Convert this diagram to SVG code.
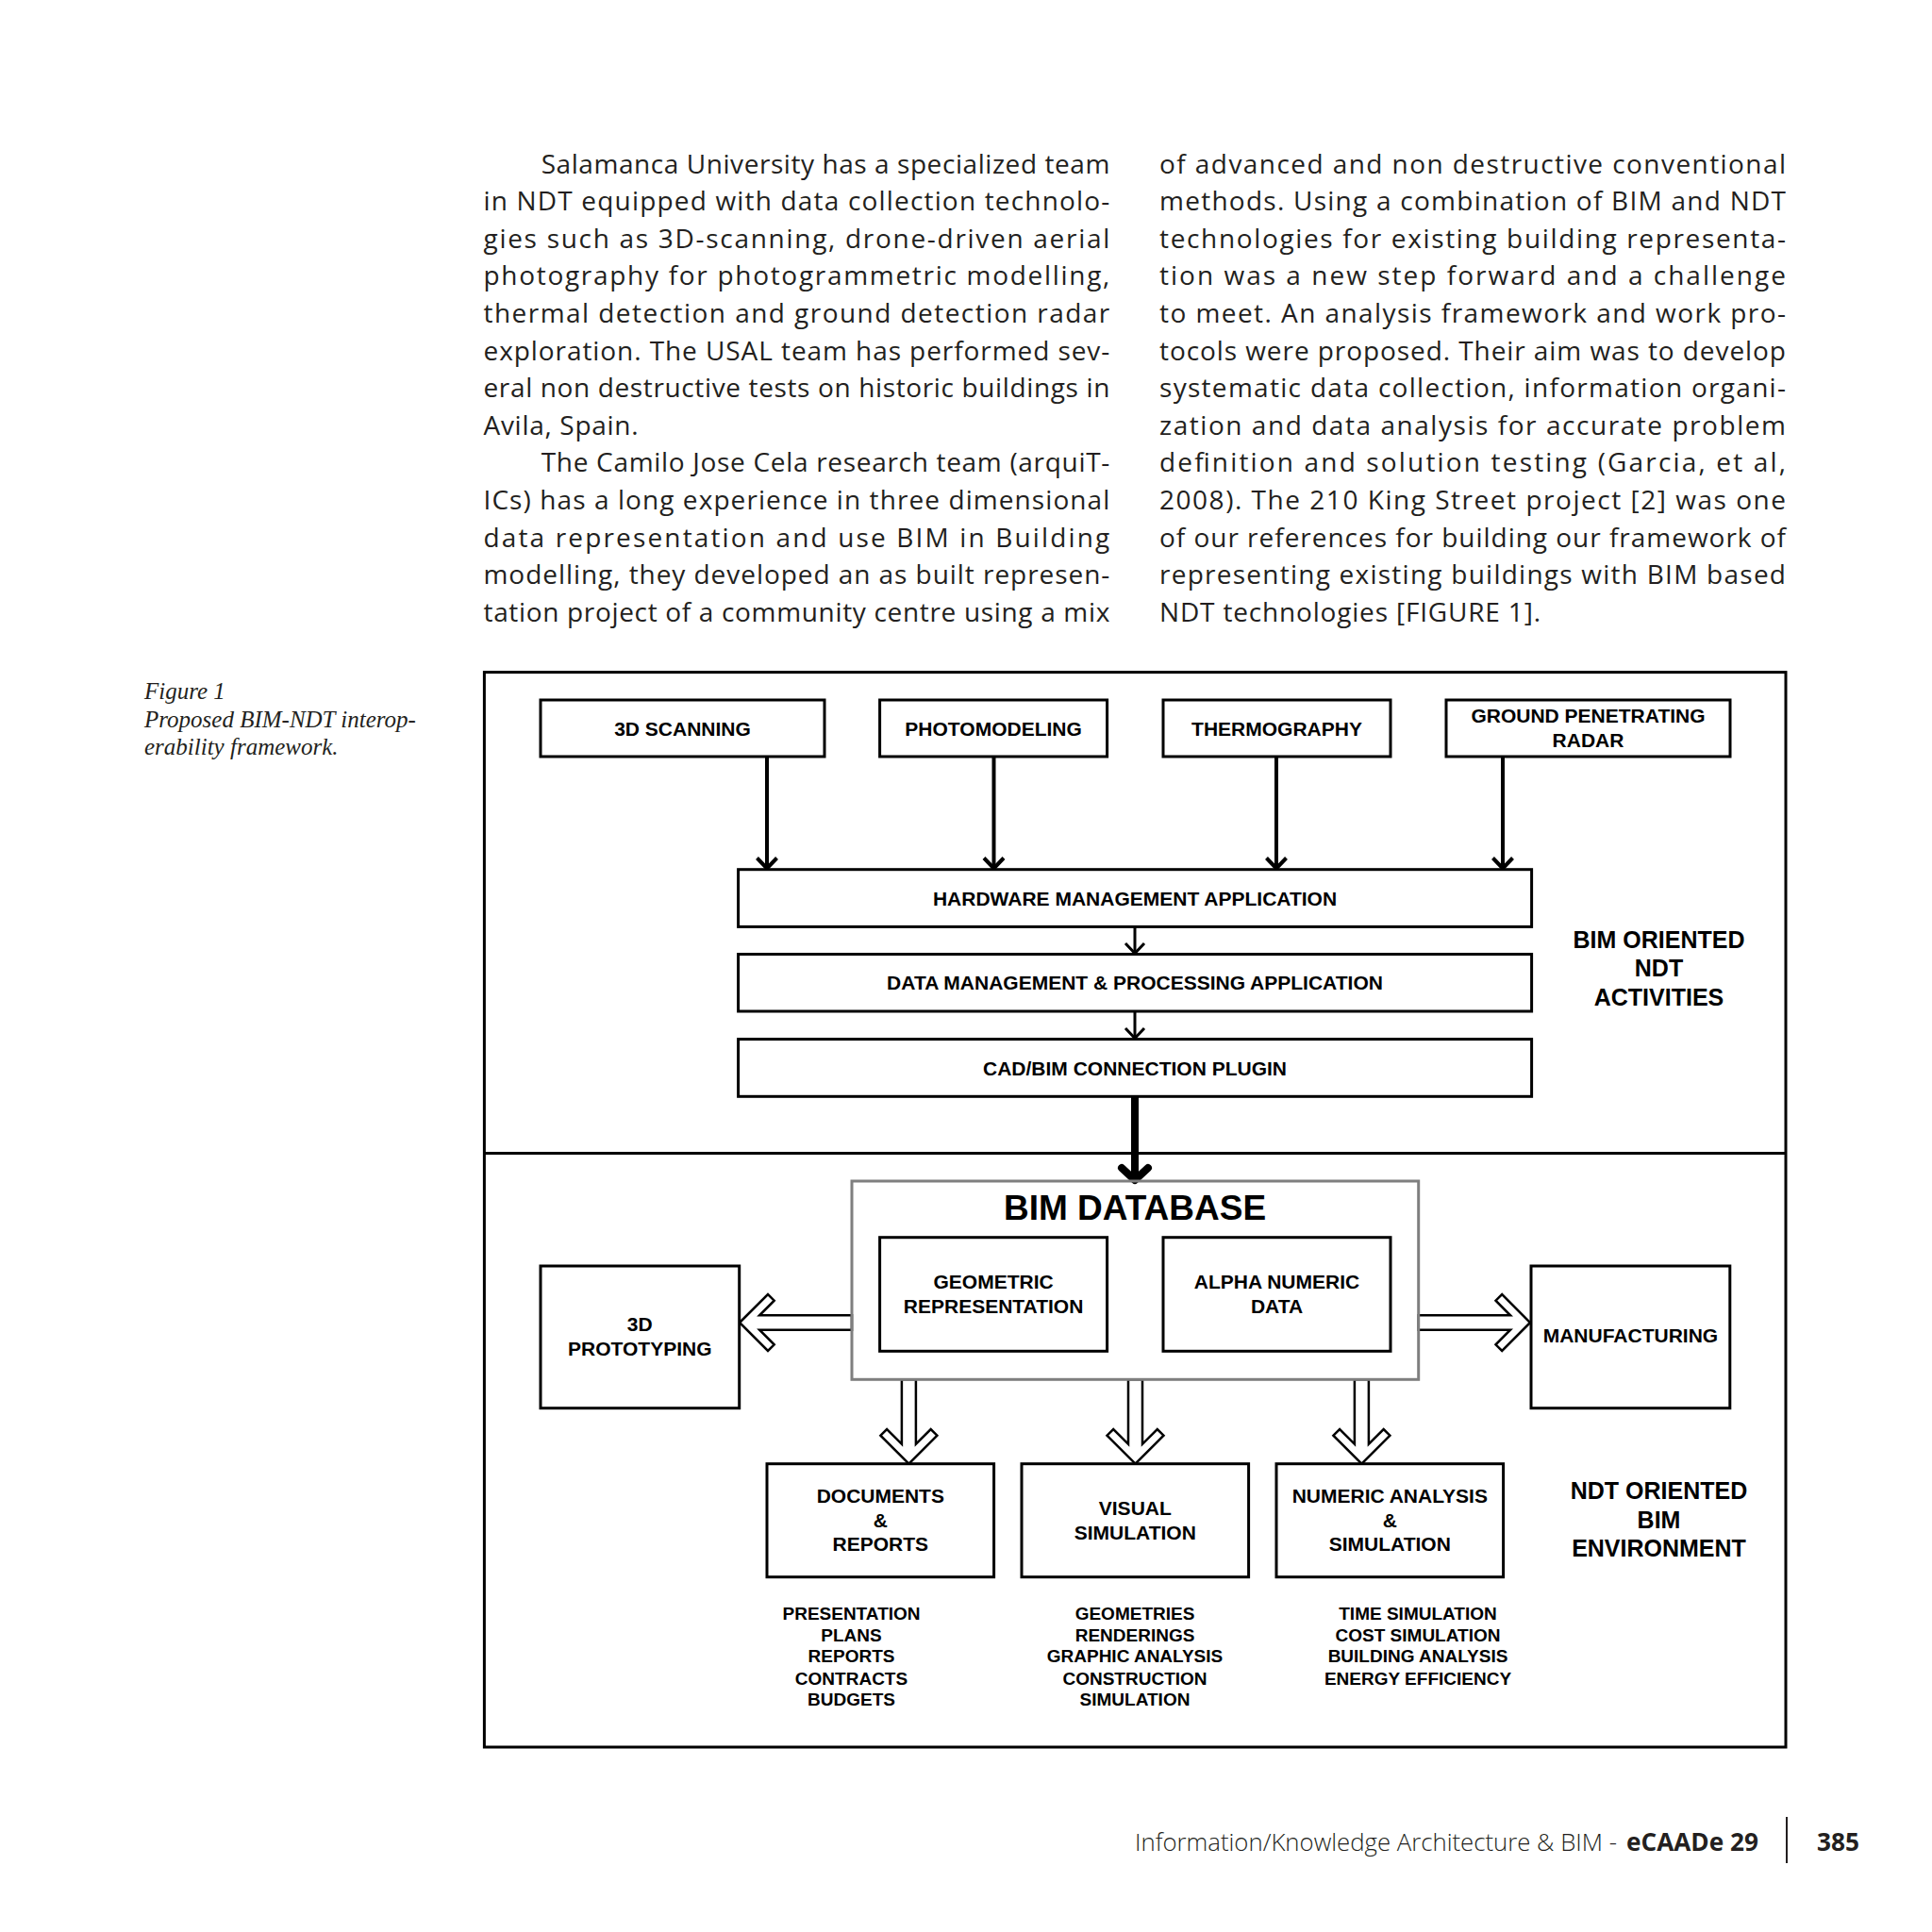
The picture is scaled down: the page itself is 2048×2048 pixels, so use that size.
<svg xmlns="http://www.w3.org/2000/svg" width="2048" height="2048" viewBox="0 0 2048 2048">
<style>
.body{font-family:"Open Sans","Noto Sans","DejaVu Sans",sans-serif;font-size:28px;fill:#231f20}
.cap{font-family:"Liberation Serif","Times New Roman",serif;font-style:italic;font-size:25px;fill:#231f20}
.lbl{font-family:"Liberation Sans",Arial,sans-serif;font-weight:bold;font-size:21px;fill:#000;text-anchor:middle}
.big{font-family:"Liberation Sans",Arial,sans-serif;font-weight:bold;font-size:25px;fill:#000;text-anchor:middle}
.lst{font-family:"Liberation Sans",Arial,sans-serif;font-weight:bold;font-size:19px;fill:#000;text-anchor:middle}
.box{fill:#fff;stroke:#000;stroke-width:3}
.ln{fill:none;stroke:#000;stroke-width:4}
.hol{fill:#fff;stroke:#000;stroke-width:2.5;stroke-linejoin:miter}
.foot{font-family:"Open Sans","Noto Sans",sans-serif;font-size:26px;fill:#231f20}
</style>
<defs>
<path id="hdown" d="M0,0 L-30,-30 L-23.3,-36.7 L-7.5,-20.9 L-7.5,-89.4 L7.5,-89.4 L7.5,-20.9 L23.3,-36.7 L30,-30 Z"/>
<path id="hside" d="M0,0 L-30,-30 L-23.3,-36.7 L-7.7,-21.1 L-7.7,-119 L7.7,-119 L7.7,-21.1 L23.3,-36.7 L30,-30 Z"/>
</defs>
<rect width="2048" height="2048" fill="#fff"/>

<g id="body-text">
<text class="body" x="573.7" y="183.6" textLength="602.6" lengthAdjust="spacing">Salamanca University has a specialized team</text>
<text class="body" x="512.5" y="223.2" textLength="663.8" lengthAdjust="spacing">in NDT equipped with data collection technolo-</text>
<text class="body" x="512.5" y="262.8" textLength="663.8" lengthAdjust="spacing">gies such as 3D-scanning, drone-driven aerial</text>
<text class="body" x="512.5" y="302.4" textLength="663.8" lengthAdjust="spacing">photography for photogrammetric modelling,</text>
<text class="body" x="512.5" y="342.0" textLength="663.8" lengthAdjust="spacing">thermal detection and ground detection radar</text>
<text class="body" x="512.5" y="381.6" textLength="663.8" lengthAdjust="spacing">exploration. The USAL team has performed sev-</text>
<text class="body" x="512.5" y="421.2" textLength="663.8" lengthAdjust="spacing">eral non destructive tests on historic buildings in</text>
<text class="body" x="512.5" y="460.8" textLength="164" lengthAdjust="spacing">Avila, Spain.</text>
<text class="body" x="573.7" y="500.4" textLength="602.6" lengthAdjust="spacing">The Camilo Jose Cela research team (arquiT-</text>
<text class="body" x="512.5" y="540.0" textLength="663.8" lengthAdjust="spacing">ICs) has a long experience in three dimensional</text>
<text class="body" x="512.5" y="579.6" textLength="663.8" lengthAdjust="spacing">data representation and use BIM in Building</text>
<text class="body" x="512.5" y="619.2" textLength="663.8" lengthAdjust="spacing">modelling, they developed an as built represen-</text>
<text class="body" x="512.5" y="658.8" textLength="663.8" lengthAdjust="spacing">tation project of a community centre using a mix</text>

<text class="body" x="1229" y="183.6" textLength="664" lengthAdjust="spacing">of advanced and non destructive conventional</text>
<text class="body" x="1229" y="223.2" textLength="664" lengthAdjust="spacing">methods. Using a combination of BIM and NDT</text>
<text class="body" x="1229" y="262.8" textLength="664" lengthAdjust="spacing">technologies for existing building representa-</text>
<text class="body" x="1229" y="302.4" textLength="664" lengthAdjust="spacing">tion was a new step forward and a challenge</text>
<text class="body" x="1229" y="342.0" textLength="664" lengthAdjust="spacing">to meet. An analysis framework and work pro-</text>
<text class="body" x="1229" y="381.6" textLength="664" lengthAdjust="spacing">tocols were proposed. Their aim was to develop</text>
<text class="body" x="1229" y="421.2" textLength="664" lengthAdjust="spacing">systematic data collection, information organi-</text>
<text class="body" x="1229" y="460.8" textLength="664" lengthAdjust="spacing">zation and data analysis for accurate problem</text>
<text class="body" x="1229" y="500.4" textLength="664" lengthAdjust="spacing">definition and solution testing (Garcia, et al,</text>
<text class="body" x="1229" y="540.0" textLength="664" lengthAdjust="spacing">2008). The 210 King Street project [2] was one</text>
<text class="body" x="1229" y="579.6" textLength="664" lengthAdjust="spacing">of our references for building our framework of</text>
<text class="body" x="1229" y="619.2" textLength="664" lengthAdjust="spacing">representing existing buildings with BIM based</text>
<text class="body" x="1229" y="658.8" textLength="404" lengthAdjust="spacing">NDT technologies [FIGURE 1].</text>
</g>

<g id="caption">
<text class="cap" x="153" y="741">Figure 1</text>
<text class="cap" x="153" y="771">Proposed BIM-NDT interop-</text>
<text class="cap" x="153" y="800">erability framework.</text>
</g>

<g id="frame">
<rect x="513.4" y="712.6" width="1379.6" height="1139.4" fill="none" stroke="#000" stroke-width="3"/>
<line x1="513.4" y1="1222.6" x2="1893" y2="1222.6" stroke="#000" stroke-width="3"/>
</g>

<g id="connectors">
<g class="ln">
<line x1="813" y1="802" x2="813" y2="920"/>
<polyline points="802.5,909.5 813,920.5 823.5,909.5"/>
<line x1="1053.5" y1="802" x2="1053.5" y2="920"/>
<polyline points="1043,909.5 1053.5,920.5 1064,909.5"/>
<line x1="1353" y1="802" x2="1353" y2="920"/>
<polyline points="1342.5,909.5 1353,920.5 1363.5,909.5"/>
<line x1="1593" y1="802" x2="1593" y2="920"/>
<polyline points="1582.5,909.5 1593,920.5 1603.5,909.5"/>
</g>
<g fill="none" stroke="#000" stroke-width="3">
<line x1="1203" y1="982" x2="1203" y2="1010"/>
<polyline points="1193,1000 1203,1010.5 1213,1000"/>
<line x1="1203" y1="1072" x2="1203" y2="1100"/>
<polyline points="1193,1090 1203,1100.5 1213,1090"/>
</g>
<g fill="none" stroke="#000" stroke-width="8" stroke-linecap="round" stroke-linejoin="round">
<line x1="1203" y1="1162" x2="1203" y2="1250"/>
<polyline points="1189,1238 1203,1251 1217,1238"/>
</g>
<use href="#hside" class="hol" transform="translate(784,1402) rotate(90)"/>
<use href="#hside" class="hol" transform="translate(1622,1402) rotate(-90) scale(1,0.994)"/>
<use href="#hdown" class="hol" transform="translate(963.4,1551.7)"/>
<use href="#hdown" class="hol" transform="translate(1203.5,1551.7)"/>
<use href="#hdown" class="hol" transform="translate(1443.4,1551.7)"/>
</g>

<g id="n-3d-scanning"><rect class="box" x="573" y="742" width="301" height="60"/><text class="lbl" x="723.5" y="779.5">3D SCANNING</text></g>
<g id="n-photomodeling"><rect class="box" x="932.6" y="742" width="241" height="60"/><text class="lbl" x="1053.1" y="779.5">PHOTOMODELING</text></g>
<g id="n-thermography"><rect class="box" x="1233" y="742" width="241" height="60"/><text class="lbl" x="1353.5" y="779.5">THERMOGRAPHY</text></g>
<g id="n-gpr"><rect class="box" x="1533" y="742" width="301" height="60"/><text class="lbl" x="1683.5" y="766">GROUND PENETRATING</text><text class="lbl" x="1683.5" y="792">RADAR</text></g>
<g id="n-hardware"><rect class="box" x="782.6" y="921.7" width="841" height="60.7"/><text class="lbl" x="1203" y="959.5">HARDWARE MANAGEMENT APPLICATION</text></g>
<g id="n-data"><rect class="box" x="782.6" y="1011.5" width="841" height="60.5"/><text class="lbl" x="1203" y="1049">DATA MANAGEMENT &amp; PROCESSING APPLICATION</text></g>
<g id="n-cadbim"><rect class="box" x="782.6" y="1101.6" width="841" height="60.7"/><text class="lbl" x="1203" y="1139.5">CAD/BIM CONNECTION PLUGIN</text></g>
<g id="n-bim-ndt-label"><text class="big" x="1758.5" y="1004.5">BIM ORIENTED</text><text class="big" x="1758.5" y="1035">NDT</text><text class="big" x="1758.5" y="1065.5">ACTIVITIES</text></g>

<g id="n-bim-database"><rect x="903" y="1252" width="600.7" height="210.3" fill="none" stroke="#7f7f7f" stroke-width="3"/><text x="1203" y="1292.7" font-family="Liberation Sans, Arial, sans-serif" font-weight="bold" font-size="37" text-anchor="middle">BIM DATABASE</text></g>
<g id="n-geometric"><rect class="box" x="932.6" y="1311.7" width="241" height="120.6"/><text class="lbl" x="1053.1" y="1366">GEOMETRIC</text><text class="lbl" x="1053.1" y="1391.7">REPRESENTATION</text></g>
<g id="n-alpha"><rect class="box" x="1233" y="1311.7" width="241" height="120.6"/><text class="lbl" x="1353.5" y="1366">ALPHA NUMERIC</text><text class="lbl" x="1353.5" y="1391.7">DATA</text></g>
<g id="n-3d-prototyping"><rect class="box" x="573" y="1342" width="210.7" height="150.7"/><text class="lbl" x="678.3" y="1411">3D</text><text class="lbl" x="678.3" y="1436.7">PROTOTYPING</text></g>
<g id="n-manufacturing"><rect class="box" x="1623" y="1342" width="210.8" height="150.7"/><text class="lbl" x="1728.4" y="1423.3">MANUFACTURING</text></g>
<g id="n-documents"><rect class="box" x="813" y="1551.7" width="240.6" height="120"/><text class="lbl" x="933.3" y="1593.3">DOCUMENTS</text><text class="lbl" x="933.3" y="1619">&amp;</text><text class="lbl" x="933.3" y="1644.3">REPORTS</text></g>
<g id="n-visual"><rect class="box" x="1083" y="1551.7" width="240.6" height="120"/><text class="lbl" x="1203.3" y="1606">VISUAL</text><text class="lbl" x="1203.3" y="1631.7">SIMULATION</text></g>
<g id="n-numeric"><rect class="box" x="1353" y="1551.7" width="240.6" height="120"/><text class="lbl" x="1473.3" y="1593.3">NUMERIC ANALYSIS</text><text class="lbl" x="1473.3" y="1619">&amp;</text><text class="lbl" x="1473.3" y="1644.3">SIMULATION</text></g>
<g id="n-ndt-bim-label"><text class="big" x="1758.5" y="1589.3">NDT ORIENTED</text><text class="big" x="1758.5" y="1619.5">BIM</text><text class="big" x="1758.5" y="1650">ENVIRONMENT</text></g>

<g id="n-list-documents">
<text class="lst" x="902.5" y="1716.7">PRESENTATION</text>
<text class="lst" x="902.5" y="1739.5">PLANS</text>
<text class="lst" x="902.5" y="1762.3">REPORTS</text>
<text class="lst" x="902.5" y="1785.5">CONTRACTS</text>
<text class="lst" x="902.5" y="1808.3">BUDGETS</text>
</g>
<g id="n-list-visual">
<text class="lst" x="1203" y="1716.7">GEOMETRIES</text>
<text class="lst" x="1203" y="1739.5">RENDERINGS</text>
<text class="lst" x="1203" y="1762.3">GRAPHIC ANALYSIS</text>
<text class="lst" x="1203" y="1785.5">CONSTRUCTION</text>
<text class="lst" x="1203" y="1808.3">SIMULATION</text>
</g>
<g id="n-list-numeric">
<text class="lst" x="1503" y="1716.7">TIME SIMULATION</text>
<text class="lst" x="1503" y="1739.5">COST SIMULATION</text>
<text class="lst" x="1503" y="1762.3">BUILDING ANALYSIS</text>
<text class="lst" x="1503" y="1785.5">ENERGY EFFICIENCY</text>
</g>

<g id="footer">
<text class="foot" x="1203" y="1962" font-weight="300" textLength="511" lengthAdjust="spacingAndGlyphs">Information/Knowledge Architecture &amp; BIM -</text>
<text class="foot" x="1724" y="1962" font-weight="bold" textLength="140" lengthAdjust="spacingAndGlyphs">eCAADe 29</text>
<line x1="1894" y1="1926" x2="1894" y2="1975" stroke="#231f20" stroke-width="2"/>
<text class="foot" x="1926" y="1962" font-weight="bold" textLength="45" lengthAdjust="spacingAndGlyphs">385</text>
</g>
</svg>
